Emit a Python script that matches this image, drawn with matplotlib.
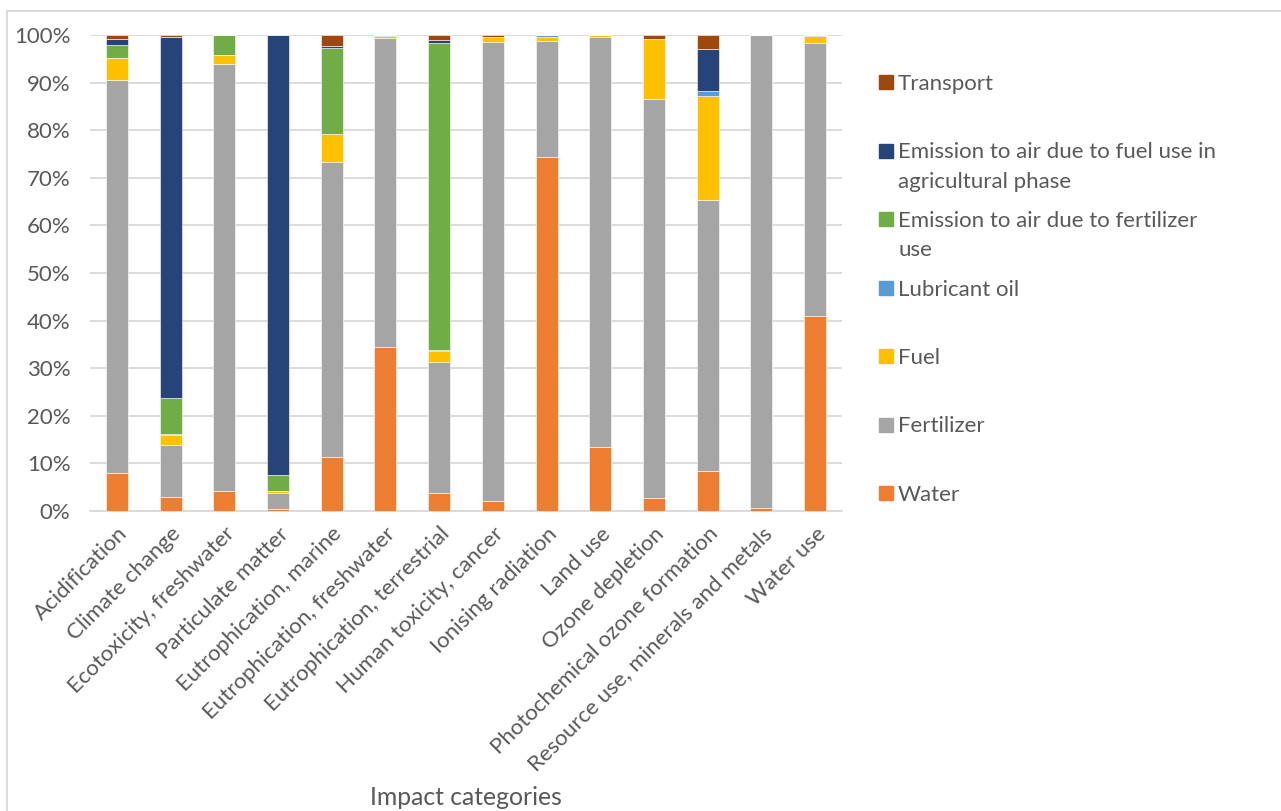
import numpy as np
import matplotlib.pyplot as plt
from matplotlib.patches import Rectangle

plt.rcParams['font.family'] = ['Lato', 'DejaVu Sans']

# Impact categories and share of each life-cycle stage (%)
categories = ["Acidification", "Climate change", "Ecotoxicity, freshwater",
              "Particulate matter", "Eutrophication, marine",
              "Eutrophication, freshwater", "Eutrophication, terrestrial",
              "Human toxicity, cancer", "Ionising radiation", "Land use",
              "Ozone depletion", "Photochemical ozone formation",
              "Resource use, minerals and metals", "Water use"]

water = [8.0, 2.9, 4.1, 0.35, 11.4, 34.5, 3.85, 2.2, 74.3, 13.4, 2.7, 8.4, 0.55, 41.0]
fertilizer = [82.5, 11.0, 89.9, 3.35, 62.0, 64.8, 27.55, 96.3, 24.4, 86.2, 83.8, 56.9, 99.35, 57.3]
fuel = [4.7, 2.1, 1.9, 0.4, 5.8, 0.5, 2.3, 1.0, 0.9, 0.4, 12.7, 21.9, 0.0, 1.4]
lubricant = [0.0, 0.1, 0.0, 0.0, 0.0, 0.1, 0.1, 0.0, 0.4, 0.0, 0.0, 1.1, 0.0, 0.3]
emis_fert = [2.8, 7.7, 4.0, 3.5, 18.1, 0.0, 64.6, 0.0, 0.0, 0.0, 0.0, 0.0, 0.0, 0.0]
emis_fuel = [1.2, 75.7, 0.0, 92.4, 0.3, 0.0, 0.5, 0.0, 0.0, 0.0, 0.0, 8.8, 0.0, 0.0]
transport = [0.8, 0.5, 0.1, 0.0, 2.4, 0.1, 1.1, 0.5, 0.0, 0.0, 0.8, 2.9, 0.1, 0.0]

series = [
    ("Water", water, "#ED7D31"),
    ("Fertilizer", fertilizer, "#A5A5A5"),
    ("Fuel", fuel, "#FFC000"),
    ("Lubricant oil", lubricant, "#5B9BD5"),
    ("Emission to air due to fertilizer\nuse", emis_fert, "#70AD47"),
    ("Emission to air due to fuel use in\nagricultural phase", emis_fuel, "#264478"),
    ("Transport", transport, "#9E480E"),
]

W, H = 1281, 811
fig = plt.figure(figsize=(W / 100, H / 100), dpi=100)
ax = fig.add_axes([90 / W, 1 - 511 / H, (842 - 90) / W, (511 - 35) / H])

txt = "#595959"
grid = "#D9D9D9"
fs = 16

x = np.arange(len(categories))
bottom = np.zeros(len(categories))
for name, vals, col in series:
    v = np.array(vals) / 100
    ax.bar(x, v, 0.41, bottom=bottom, color=col, edgecolor="white", linewidth=0.4, zorder=3)
    bottom += v

ax.set_xlim(-0.5, len(categories) - 0.5)
ax.set_ylim(0, 1)
ax.set_yticks(np.arange(0, 1.01, 0.1))
ax.set_yticklabels([f"{int(round(t * 100))}%" for t in np.arange(0, 1.01, 0.1)])
ax.yaxis.grid(True, color=grid, linewidth=1.3, zorder=0)
ax.set_xticks(x)
ax.set_xticklabels(categories, rotation=45, ha="right", va="top", rotation_mode="anchor")
ax.tick_params(axis="y", length=0, pad=14, labelsize=fs, labelcolor=txt)
ax.tick_params(axis="x", length=0, pad=9, labelsize=fs, labelcolor=txt)
for s in ["top", "right", "left"]:
    ax.spines[s].set_visible(False)
ax.spines["bottom"].set_color(grid)
ax.spines["bottom"].set_linewidth(1.3)

# outer chart border
fig.patches.append(Rectangle((7 / W, -0.1), 1.2, 1 - 11 / H + 0.1, transform=fig.transFigure,
                             fill=False, edgecolor=grid, linewidth=1.3))

fig.text(466 / W, 1 - 805 / H, "Impact categories", ha="center", va="baseline",
         fontsize=17.8, color=txt)

# legend, top entry first
for i, (name, vals, col) in enumerate(series[::-1]):
    cy = 82 + i * 68.5
    fig.patches.append(Rectangle((879 / W, 1 - (cy + 7) / H), 14 / W, 14 / H,
                                 transform=fig.transFigure, color=col))
    for k, line in enumerate(name.split("\n")):
        fig.text(898 / W, 1 - (cy + 8 + k * 29) / H, line, ha="left", va="baseline",
                 fontsize=fs, color=txt)

fig.savefig("out.png", dpi=100)
